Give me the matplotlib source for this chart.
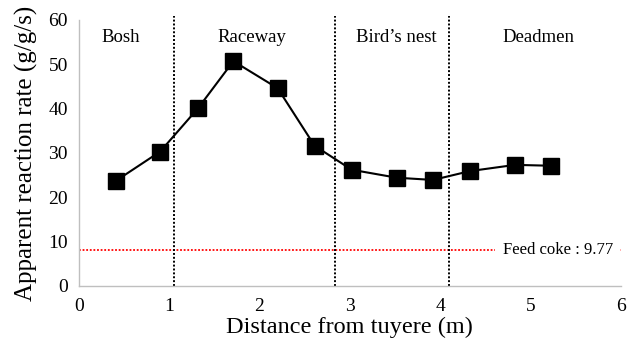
import matplotlib
matplotlib.use("Agg")
import matplotlib.pyplot as plt

distance = [0.41, 0.90, 1.32, 1.71, 2.20, 2.61, 3.02, 3.52, 3.92, 4.33, 4.83, 5.23]
rate = [23.7, 30.3, 40.1, 50.7, 44.6, 31.6, 26.2, 24.4, 23.9, 25.9, 27.3, 27.1]
boundaries = [1.05, 2.84, 4.10]
regions = ["Bosh", "Raceway", "Bird\u2019s nest", "Deadmen"]
region_x = [0.465, 1.92, 3.51, 5.09]
feed_coke_level = 8.0
feed_coke_label = "Feed coke : 9.77"
xticks = [0, 1, 2, 3, 4, 5, 6]
yticks = [0, 10, 20, 30, 40, 50, 60]

plt.rcParams['font.family'] = ['Liberation Serif', 'DejaVu Serif']

fig = plt.figure(figsize=(6.31, 3.56), dpi=100)
ax = fig.add_axes([0.125, 0.197, 0.859, 0.747])

ax.plot([0, 6], [feed_coke_level, feed_coke_level], color='red', linestyle=(0, (1, 1)), lw=1.3, zorder=1)
ax.text(5.30, feed_coke_level, feed_coke_label, fontsize=12, ha='center', va='center',
        bbox=dict(facecolor='white', edgecolor='none', pad=5.5), zorder=2)

for b in boundaries:
    ax.vlines(b, 0, 61, colors='black', linestyles=(0, (1, 1)), lw=1.4, clip_on=False, zorder=1)

ax.plot(distance, rate, color='black', lw=1.5, marker='s', markersize=11, zorder=3)

for name, xp in zip(regions, region_x):
    ax.text(xp, 56, name, fontsize=13.5, ha='center', va='center')

ax.set_xlim(0, 6)
ax.set_ylim(0, 60)
ax.set_xticks(xticks)
ax.set_yticks(yticks)
ax.tick_params(axis='x', length=0, labelsize=14, pad=9)
ax.tick_params(axis='y', length=0, labelsize=14, pad=8)
for s in ['top', 'right']:
    ax.spines[s].set_visible(False)
for s in ['left', 'bottom']:
    ax.spines[s].set_color('#bfbfbf')
    ax.spines[s].set_linewidth(1.0)

ax.set_xlabel('Distance from tuyere (m)', fontsize=17.5, labelpad=1)
ax.set_ylabel('Apparent reaction rate (g/g/s)', fontsize=18, labelpad=7)

fig.savefig('out.png', dpi=100)
